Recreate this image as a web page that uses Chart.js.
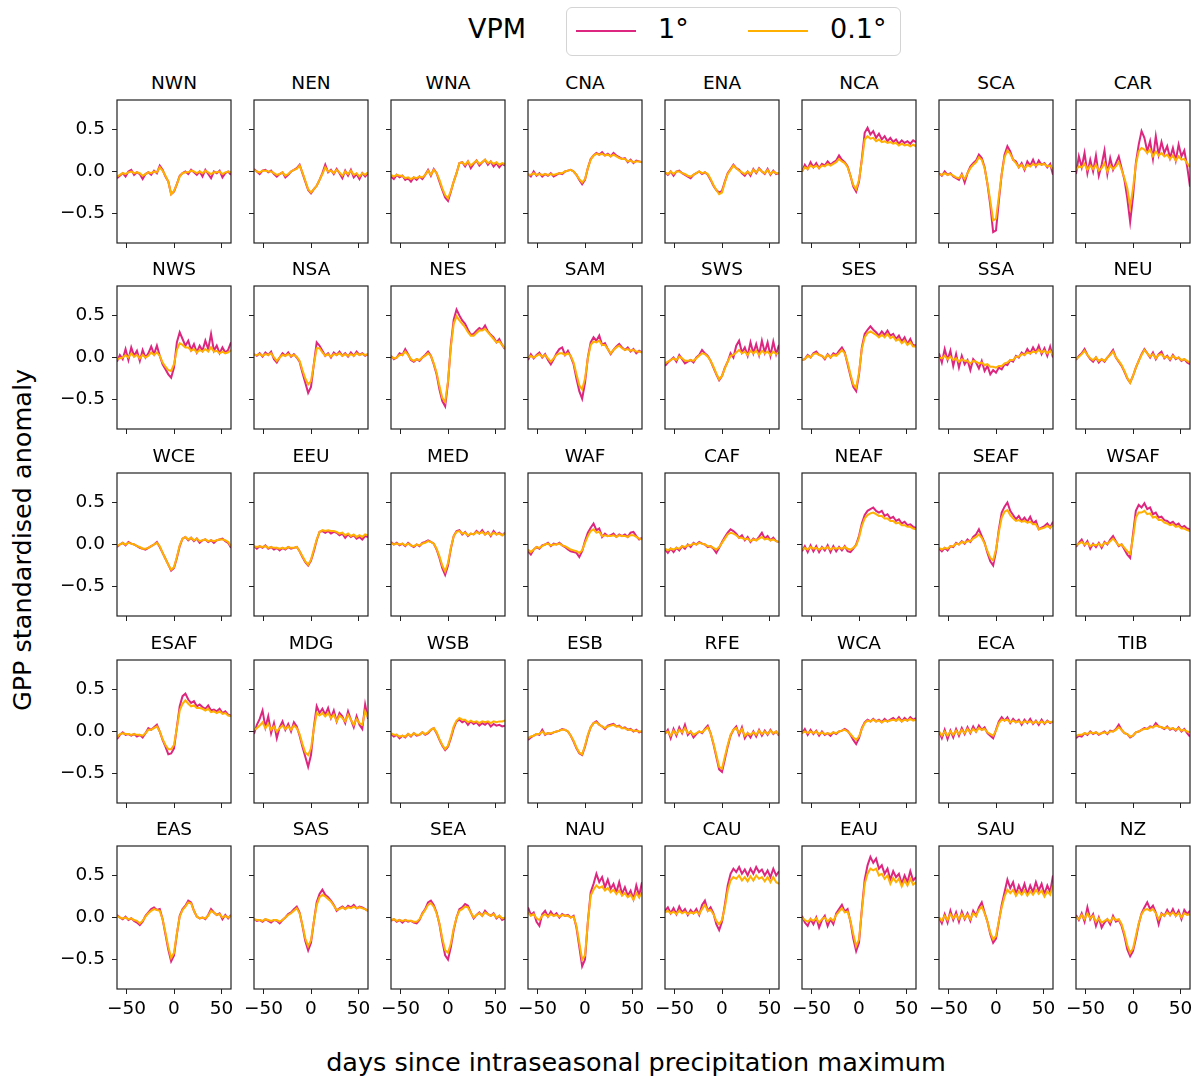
<!DOCTYPE html>
<html>
<head>
<meta charset="utf-8">
<script src="https://cdn.jsdelivr.net/npm/chart.js@4.4.1/dist/chart.umd.min.js"></script>
<style>
  html, body { margin: 0; padding: 0; background: #fff; overflow: hidden; }
  body { width: 1201px; height: 1077px; position: relative; font-family: 'DejaVu Sans', sans-serif; color: #000; }
  canvas { position: absolute; }
  .ttl { position: absolute; width: 114px; text-align: center; font-size: 18.5px; line-height: 22px; }
  .lab { position: absolute; font-size: 25.5px; white-space: nowrap; }
</style>
</head>
<body>
<div class="lab" style="left:468px;top:13px;font-size:27px;">VPM</div>
<div style="position:absolute;left:566px;top:7px;width:333px;height:47px;border:1px solid #d4d4d4;border-radius:6px;"></div>
<div style="position:absolute;left:576px;top:30px;width:60px;height:2px;background:#dc267f;"></div>
<div class="lab" style="left:658px;top:13px;font-size:27px;">1°</div>
<div style="position:absolute;left:748px;top:30px;width:60px;height:2px;background:#ffb000;"></div>
<div class="lab" style="left:830px;top:13px;font-size:27px;">0.1°</div>
<div class="lab" style="left:636px;top:1062px;transform:translate(-50%,-50%);">days since intraseasonal precipitation maximum</div>
<div class="lab" style="left:22px;top:540px;transform:translate(-50%,-50%) rotate(-90deg);">GPP standardised anomaly</div>

<script>
// days since precipitation maximum (every 3rd day)
const days = [-60,-57,-54,-51,-48,-45,-42,-39,-36,-33,-30,-27,-24,-21,-18,-15,-12,-9,-6,-3,0,3,6,9,12,15,18,21,24,27,30,33,36,39,42,45,48,51,54,57,60];
const xTicks = [-50, 0, 50];
const yTicks = [-0.5, 0, 0.5];
const regions = ['NWN','NEN','WNA','CNA','ENA','NCA','SCA','CAR',
                 'NWS','NSA','NES','SAM','SWS','SES','SSA','NEU',
                 'WCE','EEU','MED','WAF','CAF','NEAF','SEAF','WSAF',
                 'ESAF','MDG','WSB','ESB','RFE','WCA','ECA','TIB',
                 'EAS','SAS','SEA','NAU','CAU','EAU','SAU','NZ'];

// GPP anomaly in hundredths: _1 = VPM 1°, _01 = VPM 0.1°
const NWN_1 = [-8,-5,-2,-6,0,2,-4,-1,-3,-9,-3,-1,-4,1,-2,7,2,-6,-12,-27,-24,-15,-5,-2,0,-3,2,-1,-4,0,-6,2,-3,-8,0,-2,1,-7,-2,0,-4];
const NWN_01 = [-6,-4,-2,-3,-1,0,-2,-1,-2,-5,-3,-1,-2,0,-1,5,1,-5,-12,-27,-23,-15,-6,-2,-1,-1,1,0,-2,0,-2,1,-1,-3,-1,-1,0,-3,-1,0,-1];
const NEN_1 = [3,0,-3,1,2,-1,1,-3,-6,-3,-1,-7,-4,0,2,4,8,-2,-12,-22,-26,-21,-17,-10,-2,8,-1,2,-3,3,-2,-8,1,-5,2,-7,-3,-9,-2,-6,-2];
const NEN_01 = [2,0,-1,1,1,0,0,-2,-4,-3,-1,-5,-3,0,2,3,7,-1,-11,-21,-25,-21,-17,-10,-3,5,0,1,-2,2,-1,-5,0,-3,1,-4,-2,-6,-2,-4,-1];
const WNA_1 = [-6,-9,-4,-7,-5,-10,-8,-12,-7,-10,-6,-9,-4,2,-5,3,-2,-12,-22,-31,-35,-24,-12,-2,10,11,6,12,4,9,13,7,11,14,8,12,6,10,5,9,7];
const WNA_01 = [-4,-6,-4,-5,-5,-8,-7,-9,-7,-8,-6,-7,-4,1,-4,2,-2,-10,-20,-28,-32,-23,-12,-2,10,11,8,12,7,10,13,9,11,14,10,12,9,11,8,10,9];
const CNA_1 = [-3,-6,0,-5,-2,-6,-3,-5,-2,-6,-4,-2,-3,0,1,2,0,-4,-10,-15,-10,4,15,19,22,20,23,19,21,18,22,19,17,15,16,11,14,10,13,12,11];
const CNA_01 = [-4,-4,-2,-4,-3,-4,-3,-4,-3,-4,-3,-2,-2,0,1,2,0,-4,-9,-13,-9,4,14,19,21,20,21,19,20,18,20,18,16,15,15,12,13,11,12,12,11];
const ENA_1 = [-1,-4,0,-5,0,1,-2,-4,-6,-8,-4,-2,0,-3,-1,-4,-10,-17,-22,-25,-23,-12,-2,3,8,4,2,-2,-5,0,-5,3,-2,4,0,-3,3,-4,1,-3,-2];
const ENA_01 = [-1,-3,0,-3,0,0,-2,-3,-5,-6,-4,-2,0,-2,-1,-3,-9,-16,-22,-27,-25,-13,-3,2,7,4,1,-1,-3,0,-3,2,-1,3,0,-2,2,-3,0,-2,-2];
const NCA_1 = [0,8,3,11,5,10,4,9,7,12,8,11,13,19,14,11,6,-5,-18,-24,-12,15,46,52,44,48,40,45,38,42,36,40,35,38,33,37,34,36,33,37,35];
const NCA_01 = [0,5,3,7,5,7,4,7,6,9,7,9,11,15,12,10,5,-5,-16,-21,-10,13,38,42,39,40,36,38,35,36,34,35,33,34,31,33,31,32,30,32,30];
const SCA_1 = [-2,-5,0,-4,-2,-6,-8,-10,-3,-13,-2,6,10,13,20,16,5,-15,-40,-72,-70,-35,-3,20,30,24,14,12,5,10,2,12,7,14,6,13,8,10,5,9,-4];
const SCA_01 = [-3,-4,-2,-4,-3,-5,-7,-8,-4,-9,-2,4,8,11,17,14,4,-14,-35,-58,-56,-30,-3,17,25,21,14,10,5,8,3,8,6,9,7,9,8,9,6,7,3];
const CAR_1 = [-3,18,5,22,-2,14,0,19,-5,8,25,-3,16,2,10,18,4,-10,-32,-60,-30,10,32,48,40,24,36,15,42,20,35,22,30,16,28,13,32,18,25,6,-18];
const CAR_01 = [2,6,5,9,2,7,3,8,1,4,10,0,7,3,6,11,2,-8,-20,-42,-20,8,24,28,26,22,26,18,24,19,22,18,20,15,19,13,18,14,15,10,5];
const NWS_1 = [-5,3,-2,10,-3,12,2,8,-4,9,0,5,13,4,14,2,-8,-14,-20,-24,-12,18,30,22,14,20,9,16,6,14,8,20,10,28,8,14,5,12,6,9,18];
const NWS_01 = [-2,-1,0,3,0,5,1,3,-1,3,0,2,6,3,6,2,-6,-11,-15,-16,-8,9,17,15,12,12,8,10,6,9,7,10,7,12,7,8,5,7,5,6,9];
const NSA_1 = [4,2,5,1,6,3,7,-2,-6,0,5,2,6,1,4,0,-5,-18,-30,-42,-35,-8,18,14,8,2,5,0,6,3,7,2,5,1,6,2,7,3,5,2,4];
const NSA_01 = [3,3,4,2,4,3,5,0,-4,0,3,2,4,2,3,1,-4,-15,-25,-32,-28,-8,11,11,6,2,4,1,4,3,5,2,4,2,4,2,5,3,4,3,4];
const NES_1 = [2,-2,0,5,3,10,4,-3,-5,-2,-4,0,3,7,2,-8,-20,-38,-52,-58,-30,15,45,57,50,44,40,33,27,28,32,35,33,38,31,27,24,18,22,15,10];
const NES_01 = [1,-1,0,3,3,7,3,-2,-4,-2,-3,0,2,5,2,-7,-18,-34,-48,-53,-28,12,40,49,44,40,36,30,26,26,29,32,32,34,30,26,22,18,19,15,11];
const SAM_1 = [-3,4,-1,3,6,0,4,-3,-8,-2,5,10,12,3,8,1,-8,-25,-40,-49,-30,0,18,24,20,26,15,17,10,4,9,13,16,12,9,12,7,10,5,8,6];
const SAM_01 = [0,2,0,2,4,1,3,-1,-5,-1,3,5,5,3,5,2,-6,-20,-33,-38,-25,-1,15,19,18,20,15,15,10,5,9,12,14,11,9,10,8,9,7,7,6];
const SWS_1 = [-10,-6,-3,0,-5,3,-2,-7,-5,-3,-6,0,3,9,5,2,-4,-12,-20,-27,-22,-12,-5,5,0,14,20,6,12,2,18,5,16,3,20,6,18,2,19,4,15];
const SWS_01 = [-7,-5,-3,-1,-3,1,-1,-4,-4,-3,-4,-1,2,5,4,1,-4,-11,-19,-26,-22,-13,-5,2,3,6,9,5,7,3,8,5,8,3,8,5,7,3,7,4,6];
const SES_1 = [-3,-2,3,0,5,7,3,2,-2,4,0,5,3,8,12,6,-8,-22,-35,-40,-20,12,28,33,37,33,30,26,31,27,32,26,28,22,26,19,24,16,22,14,15];
const SES_01 = [-3,-2,2,0,4,5,3,2,-1,3,0,3,2,5,9,5,-6,-20,-32,-36,-18,10,24,29,31,29,27,24,27,24,28,23,25,20,22,17,20,15,18,13,13];
const SSA_1 = [5,-6,10,-3,8,-10,4,-12,2,-8,-3,-15,-2,-6,-13,-4,-16,-10,-20,-15,-18,-12,-14,-8,-9,-3,-5,2,0,6,3,10,5,12,6,14,4,11,2,13,0];
const SSA_01 = [0,-1,2,-2,1,-3,-1,-5,-2,-4,-4,-7,-4,-5,-7,-6,-9,-8,-11,-11,-12,-10,-10,-7,-6,-3,-3,1,1,4,3,6,5,7,6,9,6,8,5,8,3];
const NEU_1 = [-3,2,5,10,3,-2,-5,0,-6,-2,-5,0,4,9,0,-5,-10,-17,-25,-30,-22,-12,-4,4,10,5,0,6,-2,4,7,-1,2,-3,3,-2,0,-4,-2,-6,-8];
const NEU_01 = [-2,1,4,8,3,-1,-3,0,-4,-2,-4,0,3,7,0,-4,-9,-16,-24,-30,-22,-12,-4,3,9,5,1,4,-1,3,4,0,1,-2,2,-1,0,-3,-2,-4,-6];
const WCE_1 = [-3,0,2,-1,3,1,0,-2,-4,-5,-6,-4,-2,0,3,-3,-10,-17,-24,-31,-28,-16,-2,7,9,5,8,4,7,2,5,6,3,5,2,5,6,7,4,2,-4];
const WCE_01 = [-2,0,2,0,2,1,0,-2,-3,-5,-5,-4,-2,0,2,-2,-10,-17,-24,-30,-27,-15,-1,7,9,6,8,5,7,4,5,6,4,5,4,5,6,6,5,3,-2];
const EEU_1 = [-2,-5,-2,-4,-1,-5,-3,-6,-4,-7,-4,-6,-3,-5,-4,-3,-8,-15,-21,-25,-19,-8,5,15,16,14,16,13,15,14,11,13,8,12,9,11,7,9,6,10,9];
const EEU_01 = [-2,-3,-2,-3,-2,-4,-3,-4,-4,-5,-4,-5,-3,-4,-4,-3,-8,-14,-20,-24,-18,-6,6,15,17,16,17,16,16,15,13,14,11,13,10,12,9,11,9,12,11];
const MED_1 = [3,0,2,-1,1,-2,2,-1,-3,0,-2,2,3,5,3,1,-6,-16,-28,-36,-25,-5,10,16,17,12,15,10,13,12,16,13,17,12,15,10,16,12,14,11,14];
const MED_01 = [2,0,1,0,1,-1,1,-1,-2,0,-1,1,2,4,3,1,-5,-14,-25,-32,-22,-4,10,15,16,13,14,11,13,12,15,13,15,12,14,11,14,12,13,11,13];
const WAF_1 = [-8,-12,-6,-3,-5,-1,0,2,-2,1,0,2,-1,-3,-6,-8,-9,-10,-15,-8,4,14,20,25,17,19,9,13,10,11,13,9,12,10,12,9,14,15,10,6,8];
const WAF_01 = [-6,-9,-6,-3,-4,-2,0,1,-1,0,0,1,-1,-2,-4,-6,-7,-8,-10,-7,2,10,16,18,14,15,10,11,10,10,11,9,11,10,10,9,11,11,9,7,6];
const CAF_1 = [-6,-10,-5,-9,-4,-7,-2,-5,0,-3,2,0,3,1,0,-3,-2,-5,-10,-4,3,9,14,18,16,13,8,11,5,9,3,7,5,9,14,7,10,5,8,4,3];
const CAF_01 = [-5,-7,-5,-6,-4,-5,-2,-3,-1,-1,1,0,2,1,0,-2,-2,-4,-6,-3,2,7,12,14,13,11,8,8,6,7,4,6,5,7,9,6,7,5,6,4,3];
const NEAF_1 = [-8,-2,-9,-1,-8,-2,-9,-3,-7,-1,-9,-2,-8,-3,-7,-2,-8,-9,-5,0,10,25,35,40,42,44,40,38,40,34,36,31,33,28,30,25,27,23,24,21,20];
const NEAF_01 = [-6,-4,-6,-3,-5,-4,-6,-4,-5,-3,-6,-4,-5,-4,-5,-3,-5,-6,-4,-1,8,22,31,35,37,38,36,34,34,31,31,28,28,25,26,23,23,21,21,19,18];
const SEAF_1 = [-5,-8,-4,-7,-2,-3,2,0,4,1,6,3,9,12,18,10,2,-10,-20,-25,-8,18,38,45,50,40,35,30,34,28,32,27,33,25,28,18,20,22,25,20,27];
const SEAF_01 = [-4,-6,-4,-5,-2,-2,1,0,3,2,4,4,7,9,12,8,1,-8,-16,-19,-6,15,32,39,41,35,31,28,29,27,28,26,27,24,24,18,19,20,22,20,23];
const WSAF_1 = [-3,2,6,-1,4,-5,1,-3,2,-4,3,0,6,10,4,-2,0,-6,-12,-16,12,40,47,44,49,42,44,36,38,32,33,29,28,25,27,23,25,20,22,19,18];
const WSAF_01 = [-1,1,3,0,2,-2,0,-1,1,-2,2,1,4,7,3,-1,0,-4,-8,-11,8,32,38,38,40,36,37,32,33,29,29,26,25,23,24,21,22,19,19,17,16];
const ESAF_1 = [-9,-4,-1,-4,-3,-5,-3,-6,-4,-7,-2,4,2,5,8,0,-10,-18,-27,-26,-20,5,30,42,45,38,34,36,30,32,29,27,31,25,26,24,27,22,24,20,19];
const ESAF_01 = [-7,-3,-2,-3,-3,-4,-3,-4,-4,-5,-2,2,2,4,6,0,-9,-16,-21,-21,-16,4,25,33,37,33,30,31,28,28,27,25,27,23,24,22,24,21,22,19,18];
const MDG_1 = [-3,8,15,25,5,18,-2,10,-8,5,12,2,9,0,11,6,-5,-18,-30,-42,-28,5,30,22,27,20,28,16,25,12,22,18,10,24,14,5,18,8,3,32,15];
const MDG_01 = [2,4,7,11,4,9,2,6,0,4,7,3,6,2,7,4,-3,-15,-25,-28,-20,3,22,19,22,18,22,16,20,12,19,16,12,20,14,8,15,10,8,24,17];
const WSB_1 = [-3,-6,-4,-8,-5,-7,-3,-6,-2,-5,-4,-1,-4,-2,2,4,-2,-10,-17,-22,-18,-8,4,12,14,11,13,8,12,9,11,7,10,8,11,6,9,7,8,6,7];
const WSB_01 = [-2,-4,-4,-6,-5,-6,-3,-5,-2,-4,-4,-1,-3,-1,2,4,-1,-9,-16,-21,-17,-6,6,13,16,14,14,11,13,11,12,10,12,11,12,10,12,11,12,12,13];
const ESB_1 = [-10,-7,-5,-3,-4,2,-4,-2,-3,-1,0,1,3,2,0,-5,-12,-20,-26,-28,-18,-5,5,10,12,8,6,3,7,8,9,6,7,4,5,2,3,0,2,-1,0];
const ESB_01 = [-8,-6,-5,-3,-3,0,-3,-2,-2,-1,0,1,2,2,0,-5,-11,-19,-25,-27,-17,-4,5,10,11,8,6,4,6,7,8,6,6,4,4,2,2,1,1,0,0];
const RFE_1 = [-3,2,-8,3,-5,5,-2,8,-4,0,-7,-3,0,-2,3,7,-2,-15,-30,-45,-48,-33,-18,-5,2,6,-4,5,-8,-2,-7,0,-6,2,-5,1,-4,2,-3,0,-5];
const RFE_01 = [-2,0,-5,1,-3,2,-1,4,-2,0,-4,-2,0,-1,2,5,-2,-14,-28,-42,-44,-30,-16,-4,2,4,-2,3,-5,-2,-4,-1,-4,1,-3,0,-3,1,-2,0,-4];
const WCA_1 = [-2,3,-4,2,-3,1,-5,0,-4,-2,-5,-1,-3,0,1,3,1,-4,-10,-15,-8,4,11,14,12,15,12,14,11,15,12,14,16,13,17,12,16,13,17,14,16];
const WCA_01 = [-2,0,-2,0,-2,0,-3,-1,-3,-2,-3,-1,-2,0,1,2,0,-3,-7,-10,-6,3,10,13,12,14,12,13,11,13,12,13,14,13,15,12,14,13,15,13,14];
const ECA_1 = [0,-8,2,-9,1,-7,3,-5,4,-3,5,-2,6,0,7,2,5,-2,-5,-8,2,12,17,13,17,10,15,11,14,8,14,10,15,9,13,8,14,9,13,10,12];
const ECA_01 = [0,-5,0,-5,0,-4,1,-3,2,-2,3,-1,3,0,4,2,3,-1,-3,-5,1,10,14,13,14,11,13,11,12,10,12,11,12,10,12,10,12,10,12,11,12];
const TIB_1 = [-8,-5,-6,-2,-4,0,-3,-1,-4,-2,0,-3,1,0,3,8,2,-2,-3,-7,-5,-1,0,2,4,3,6,5,10,6,5,3,6,2,4,1,5,0,3,-2,-6];
const TIB_01 = [-5,-4,-4,-2,-3,-1,-2,-1,-3,-2,-1,-2,0,0,2,5,2,-2,-3,-6,-5,-1,0,2,3,3,5,5,7,6,5,4,5,3,4,2,4,1,2,0,-1];
const EAS_1 = [3,0,-2,1,-3,-1,-4,-6,-9,-5,2,6,10,12,9,10,-2,-20,-38,-52,-45,-20,2,10,14,20,18,8,1,-1,0,-2,3,10,6,3,5,-2,3,-1,3];
const EAS_01 = [2,0,-1,0,-2,-1,-3,-4,-7,-4,1,5,8,10,9,8,-2,-18,-35,-48,-42,-19,1,9,13,18,17,8,1,-1,0,-1,2,8,6,3,4,0,2,0,2];
const SAS_1 = [-2,-4,-3,-5,-2,-4,-6,-3,-4,-7,-3,0,4,6,10,13,6,-10,-28,-39,-30,-5,18,28,33,27,24,20,15,8,11,13,10,14,12,15,11,13,12,10,8];
const SAS_01 = [-2,-3,-3,-4,-2,-3,-4,-3,-3,-5,-3,0,3,5,8,11,5,-9,-25,-34,-27,-5,15,24,27,25,22,19,14,9,10,12,10,12,11,13,11,12,11,10,8];
const SEA_1 = [-4,-2,-5,-3,-6,-3,-5,-4,-6,-7,-3,5,10,18,20,15,6,-8,-28,-45,-50,-35,-15,0,10,12,16,14,6,-1,3,6,2,8,4,2,5,-1,2,-3,-1];
const SEA_01 = [-3,-2,-4,-3,-4,-3,-4,-4,-5,-5,-2,4,9,15,17,13,5,-7,-25,-39,-42,-31,-13,0,8,10,13,12,6,0,3,5,2,6,4,2,4,0,2,-1,0];
const NAU_1 = [12,3,6,-5,-10,4,8,1,7,2,5,0,4,2,3,0,2,-12,-35,-58,-50,-5,30,40,52,42,48,36,45,34,40,30,42,28,36,26,32,22,38,26,42];
const NAU_01 = [6,2,4,-1,-3,2,4,1,4,2,3,1,3,2,2,0,1,-10,-30,-50,-45,-6,26,33,38,35,37,32,35,30,33,28,32,26,29,24,27,21,29,24,30];
const CAU_1 = [8,12,5,11,4,13,6,10,3,9,5,10,3,15,20,8,12,5,-8,-15,-5,15,38,52,58,54,60,52,57,50,58,52,60,54,57,50,56,48,58,50,55];
const CAU_01 = [6,8,5,7,4,8,5,7,4,6,5,7,4,10,15,8,9,4,-4,-8,-3,12,32,44,48,46,50,44,48,43,49,44,50,46,48,43,48,42,48,42,40];
const EAU_1 = [2,-6,-10,-2,-8,0,-12,-3,2,-10,-2,-8,5,10,15,7,10,-5,-25,-40,-30,10,45,62,72,65,70,58,62,52,58,45,55,48,52,40,50,42,55,44,48];
const EAU_01 = [0,-3,-5,-2,-4,-1,-6,-2,0,-5,-1,-4,3,7,11,6,7,-4,-20,-34,-26,8,40,52,58,56,58,50,52,46,50,40,47,42,46,37,44,38,46,39,42];
const SAU_1 = [0,-7,4,-6,8,-3,6,-5,7,-2,5,-4,8,2,12,18,6,-5,-20,-30,-25,-5,15,30,45,35,42,28,38,30,40,28,38,30,42,32,40,28,38,30,50];
const SAU_01 = [0,-4,2,-3,4,-1,3,-2,4,-1,3,-2,5,2,9,13,5,-5,-18,-26,-22,-4,12,25,33,29,33,26,31,27,32,26,31,27,33,28,32,25,31,27,38];
const NZ_1 = [3,-3,5,-5,12,-2,4,-10,0,-12,-6,-2,-8,2,-5,-3,-10,-22,-38,-46,-40,-25,-8,5,12,18,10,14,6,-8,5,2,9,3,10,2,8,-2,9,4,8];
const NZ_01 = [1,-2,3,-2,5,-1,2,-5,-1,-6,-4,-2,-5,0,-3,-2,-8,-19,-33,-42,-37,-22,-7,4,9,10,8,10,5,-2,4,2,6,3,6,2,5,0,5,3,4];

const series = {
  NWN:[NWN_1,NWN_01], NEN:[NEN_1,NEN_01], WNA:[WNA_1,WNA_01], CNA:[CNA_1,CNA_01],
  ENA:[ENA_1,ENA_01], NCA:[NCA_1,NCA_01], SCA:[SCA_1,SCA_01], CAR:[CAR_1,CAR_01],
  NWS:[NWS_1,NWS_01], NSA:[NSA_1,NSA_01], NES:[NES_1,NES_01], SAM:[SAM_1,SAM_01],
  SWS:[SWS_1,SWS_01], SES:[SES_1,SES_01], SSA:[SSA_1,SSA_01], NEU:[NEU_1,NEU_01],
  WCE:[WCE_1,WCE_01], EEU:[EEU_1,EEU_01], MED:[MED_1,MED_01], WAF:[WAF_1,WAF_01],
  CAF:[CAF_1,CAF_01], NEAF:[NEAF_1,NEAF_01], SEAF:[SEAF_1,SEAF_01], WSAF:[WSAF_1,WSAF_01],
  ESAF:[ESAF_1,ESAF_01], MDG:[MDG_1,MDG_01], WSB:[WSB_1,WSB_01], ESB:[ESB_1,ESB_01],
  RFE:[RFE_1,RFE_01], WCA:[WCA_1,WCA_01], ECA:[ECA_1,ECA_01], TIB:[TIB_1,TIB_01],
  EAS:[EAS_1,EAS_01], SAS:[SAS_1,SAS_01], SEA:[SEA_1,SEA_01], NAU:[NAU_1,NAU_01],
  CAU:[CAU_1,CAU_01], EAU:[EAU_1,EAU_01], SAU:[SAU_1,SAU_01], NZ:[NZ_1,NZ_01]
};

const PINK = '#dc267f';
const ORANGE = '#ffb000';
const FONT = 'DejaVu Sans';

// caixa completa em volta de cada painel
const frame = {
  id: 'frame',
  afterDatasetsDraw(chart) {
    const a = chart.chartArea, c = chart.ctx;
    c.save();
    c.strokeStyle = '#222';
    c.lineWidth = 1.2;
    c.strokeRect(a.left, a.top, a.right - a.left, a.bottom - a.top);
    c.restore();
  }
};

const toPts = vals => vals.map((v, i) => ({x: days[i], y: v / 100}));
const minus = s => String(s).replace('-', '\u2212');

regions.forEach((name, k) => {
  const col = k % 8, row = Math.floor(k / 8);
  const boxL = 117 + col * 137;
  const boxT = [100, 286, 473, 660, 846][row];

  const t = document.createElement('div');
  t.className = 'ttl';
  t.style.left = boxL + 'px';
  t.style.top = (boxT - 28) + 'px';
  t.textContent = name;
  document.body.appendChild(t);

  const cv = document.createElement('canvas');
  cv.width = 188; cv.height = 177;
  cv.style.left = (boxL - 60) + 'px';
  cv.style.top = (boxT - 2) + 'px';
  document.body.appendChild(cv);

  new Chart(cv.getContext('2d'), {
    type: 'line',
    data: {
      datasets: [
        { data: toPts(series[name][1]), borderColor: ORANGE, borderWidth: 2, pointRadius: 0, tension: 0, order: 0 },
        { data: toPts(series[name][0]), borderColor: PINK, borderWidth: 2, pointRadius: 0, tension: 0, order: 1 }
      ]
    },
    options: {
      responsive: false,
      animation: false,
      events: [],
      layout: { padding: { top: 2, right: 14, left: 0, bottom: 0 } },
      plugins: { legend: { display: false }, tooltip: { enabled: false }, title: { display: false } },
      scales: {
        x: {
          type: 'linear', min: -60, max: 60,
          afterBuildTicks: s => { s.ticks = xTicks.map(v => ({ value: v })); },
          afterFit: s => { s.height = 32; s.paddingLeft = 0; s.paddingRight = 0; },
          border: { display: false },
          grid: { drawOnChartArea: false, drawTicks: true, tickLength: 5, color: '#222' },
          ticks: { display: row === 4, color: '#000', padding: 4, maxRotation: 0,
                   font: { family: FONT, size: 18.5 }, callback: v => minus(v) }
        },
        y: {
          min: -0.85, max: 0.85,
          afterBuildTicks: s => { s.ticks = yTicks.map(v => ({ value: v })); },
          afterFit: s => { s.width = 60; s.paddingTop = 0; s.paddingBottom = 0; },
          border: { display: false },
          grid: { drawOnChartArea: false, drawTicks: true, tickLength: 5, color: '#222' },
          ticks: { display: col === 0, color: '#000', padding: 7,
                   font: { family: FONT, size: 18.5 }, callback: v => minus(v.toFixed(1)) }
        }
      }
    },
    plugins: [frame]
  });
});
</script>
</body>
</html>
